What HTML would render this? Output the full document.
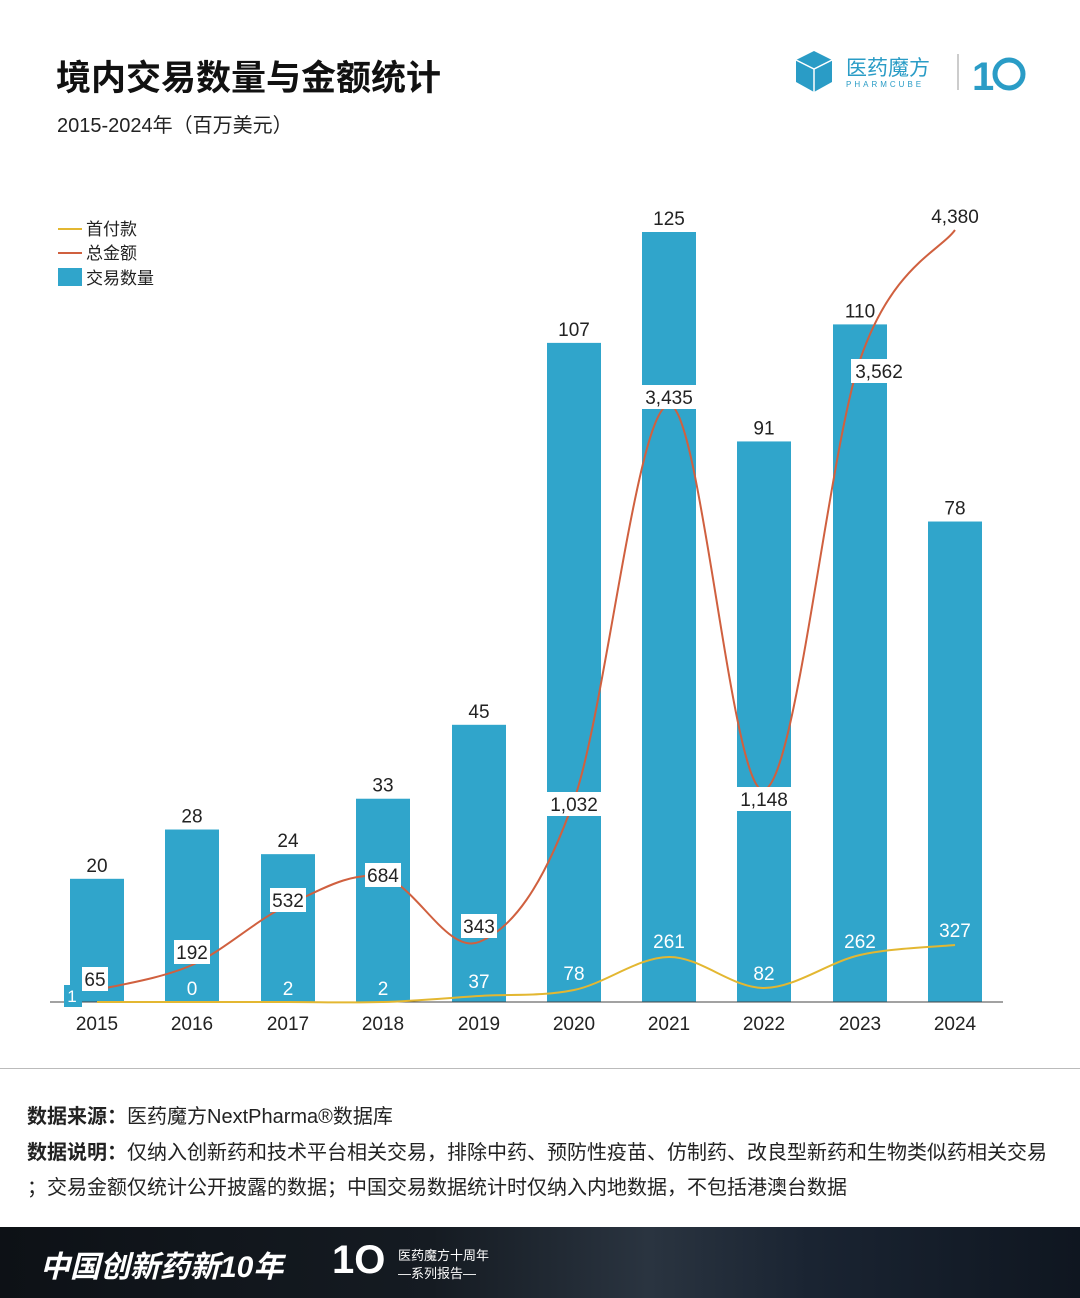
<!DOCTYPE html>
<html><head><meta charset="utf-8"><style>
body{margin:0;width:1080px;height:1298px;background:#fff;font-family:"Liberation Sans","Noto Sans CJK SC",sans-serif;overflow:hidden;position:relative}
.t{position:absolute;white-space:nowrap}
</style></head><body>
<div class="t" style="left:56px;top:50px;font-size:35px;font-weight:bold;color:#111">境内交易数量与金额统计</div>
<div class="t" style="left:57px;top:109px;font-size:20px;color:#222">2015-2024年（百万美元）</div>
<svg style="position:absolute;left:792px;top:48px" width="250" height="50">
<polygon points="4,12 22,3 40,12 40,34 22,44 4,34" fill="#2a9cc6"/>
<polyline points="4,12 22,21 40,12 M22,21" fill="none" stroke="#fff" stroke-width="1.5"/>
<line x1="22" y1="21" x2="22" y2="44" stroke="#fff" stroke-width="1.5"/>
<text x="54" y="27" font-size="21" fill="#2a9cc6" font-family="Noto Sans CJK SC">医药魔方</text>
<text x="54" y="39" font-size="8" fill="#2a9cc6" letter-spacing="3">PHARMCUBE</text>
<line x1="166" y1="6" x2="166" y2="42" stroke="#999"/>
<text x="180" y="42" font-size="40" font-weight="bold" fill="#2a9cc6">1</text>
<circle cx="217" cy="26" r="14" fill="none" stroke="#2a9cc6" stroke-width="5"/>
</svg>
<svg id="c" style="position:absolute;left:0;top:0" width="1080" height="1060" font-family="Liberation Sans, DejaVu Sans, sans-serif"></svg>
<div style="position:absolute;left:0;top:1068px;width:1080px;height:1px;background:#bbb"></div>
<div class="t" style="left:27px;top:1100px;font-size:20px;color:#222"><b>数据来源：</b>医药魔方NextPharma®数据库</div>
<div class="t" style="left:27px;top:1136px;font-size:20px;color:#222"><b>数据说明：</b>仅纳入创新药和技术平台相关交易，排除中药、预防性疫苗、仿制药、改良型新药和生物类似药相关交易</div>
<div class="t" style="left:27px;top:1171px;font-size:20px;color:#222">；交易金额仅统计公开披露的数据；中国交易数据统计时仅纳入内地数据，不包括港澳台数据</div>
<div style="position:absolute;left:0;top:1227px;width:1080px;height:71px;background:linear-gradient(90deg,#0d1116 0%,#151b22 40%,#2a3440 60%,#1a2432 75%,#0f1620 100%)"></div>
<div class="t" style="left:40px;top:1242px;font-size:30px;font-weight:bold;font-style:italic;color:#fff">中国创新药新10年</div>
<div class="t" style="left:332px;top:1238px;font-size:40px;font-weight:bold;color:#fff">1O</div>
<div class="t" style="left:398px;top:1245px;font-size:13px;color:#fff">医药魔方十周年</div>
<div class="t" style="left:398px;top:1263px;font-size:13px;color:#fff">—系列报告—</div>
<script>
const s=document.getElementById('c');let h='';
const xs=[97,192,288,383,479,574,669,764,860,955],cnt=[20,28,24,33,45,107,125,91,110,78];
const B=1002,k=6.16;
cnt.forEach((v,i)=>{const y=B-v*k;h+=`<rect x="${xs[i]-27}" y="${y}" width="54" height="${B-y}" fill="#30a5cb"/><text x="${xs[i]}" y="${y-7}" font-size="19" text-anchor="middle" fill="#222">${v}</text>`;});
h+=`<line x1="50" y1="1002" x2="1003" y2="1002" stroke="#444"/>`;
xs.forEach((x,i)=>h+=`<text x="${x}" y="1030" font-size="19" text-anchor="middle" fill="#222">${2015+i}</text>`);
function path(p){let d=`M${p[0][0]},${p[0][1]}`;for(let i=0;i<p.length-1;i++){const p0=p[i-1]||p[i],p1=p[i],p2=p[i+1],p3=p[i+2]||p2;d+=` C${p1[0]+(p2[0]-p0[0])/6},${p1[1]+(p2[1]-p0[1])/6} ${p2[0]-(p3[0]-p1[0])/6},${p2[1]-(p3[1]-p1[1])/6} ${p2[0]},${p2[1]}`;}return d;}
const dp=[1002,1002,1002,1002,996,990,957,988,955,945],tot=[990,965,905,877,942,800,405,790,360,230];
h+=`<path d="${path(xs.map((x,i)=>[x,dp[i]]))}" fill="none" stroke="#e3b731" stroke-width="2"/>`;
h+=`<path d="${path(xs.map((x,i)=>[x,tot[i]]))}" fill="none" stroke="#d0603f" stroke-width="2"/>`;
[[95,979,'65'],[192,952,'192'],[288,900,'532'],[383,875,'684'],[479,926,'343'],[574,804,'1,032'],[669,397,'3,435'],[764,799,'1,148'],[879,371,'3,562']].forEach(([x,y,t])=>{const w=t.length*10+6;h+=`<rect x="${x-w/2}" y="${y-12}" width="${w}" height="24" fill="#fff"/><text x="${x}" y="${y+7}" font-size="19" text-anchor="middle" fill="#222">${t}</text>`;});
h+=`<text x="955" y="223" font-size="19" text-anchor="middle" fill="#222">4,380</text>`;
[[192,995,'0'],[288,995,'2'],[383,995,'2'],[479,988,'37'],[574,980,'78'],[669,948,'261'],[764,980,'82'],[860,948,'262'],[955,937,'327']].forEach(([x,y,t])=>h+=`<text x="${x}" y="${y}" font-size="19" text-anchor="middle" fill="#fff">${t}</text>`);
h+=`<rect x="64" y="985" width="18" height="22" fill="#30a5cb"/><text x="72" y="1002" font-size="17" text-anchor="middle" fill="#fff">1</text>`;
h+=`<line x1="58" y1="229" x2="82" y2="229" stroke="#e3b731" stroke-width="2"/><text x="86" y="235" font-size="17" fill="#222" font-family="Noto Sans CJK SC">首付款</text>`;
h+=`<line x1="58" y1="253" x2="82" y2="253" stroke="#d0603f" stroke-width="2"/><text x="86" y="259" font-size="17" fill="#222" font-family="Noto Sans CJK SC">总金额</text>`;
h+=`<rect x="58" y="268" width="24" height="18" fill="#30a5cb"/><text x="86" y="284" font-size="17" fill="#222" font-family="Noto Sans CJK SC">交易数量</text>`;
s.innerHTML=h;
</script>
</body></html>
